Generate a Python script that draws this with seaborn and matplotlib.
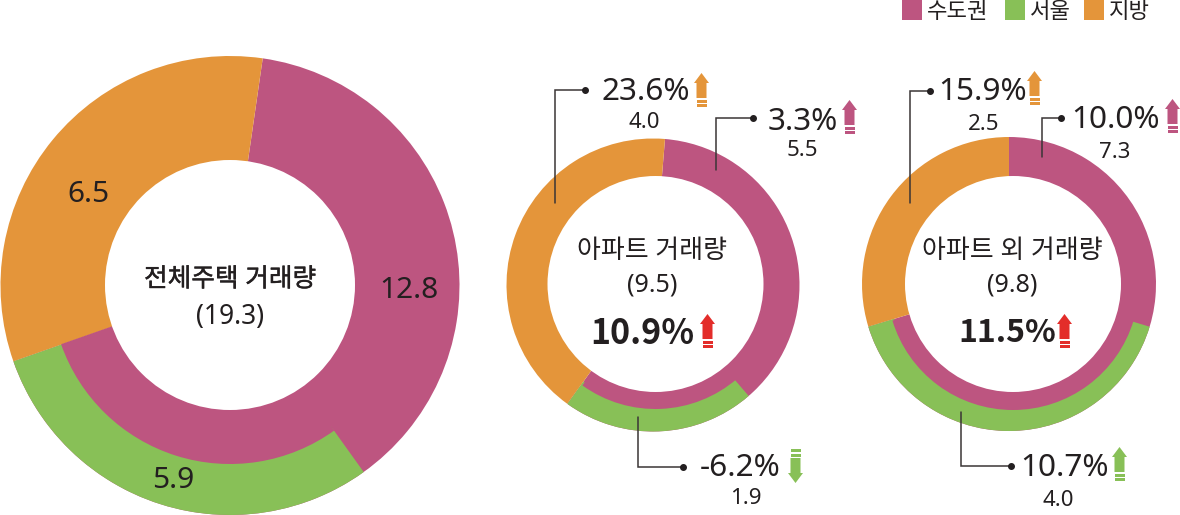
"""Housing transaction donuts, drawn in pixel coordinates of the 1180x515 canvas."""
import matplotlib
matplotlib.use("Agg")
import matplotlib.patheffects as pe
import matplotlib.pyplot as plt
import seaborn as sns
from matplotlib.patches import Circle, Polygon, Rectangle

W, H = 1180, 515

regions = ["수도권", "서울", "지방"]
colors = sns.color_palette(["#BD5580", "#88C057", "#E4953A"])
PINK, GREEN, ORANGE = colors
RED = "#E32D2A"
INK = "#231F20"

# arc sizes read off the rings: 수도권 without 서울, 서울, 지방
total_arcs = [7.3, 5.7, 6.3]
apt_arcs = [3.55, 2.02, 3.93]
non_apt_arcs = [2.91, 3.98, 2.91]

total_labels = ["12.8", "5.9", "6.5"]
apt_changes = ["3.3%", "-6.2%", "23.6%"]
apt_volumes = ["5.5", "1.9", "4.0"]
non_apt_changes = ["10.0%", "10.7%", "15.9%"]
non_apt_volumes = ["7.3", "4.0", "2.5"]

sns.set_theme(style="white")
plt.rcParams["font.family"] = ["Noto Sans", "Noto Sans CJK KR"]
plt.rcParams["text.color"] = INK

fig = plt.figure(figsize=(W / 100, H / 100), dpi=100)
ax = fig.add_axes([0, 0, 1, 1])


def fy(py):
    return H - py


def label(px, py, s, size, stroke=0, **kw):
    t = ax.text(px, fy(py + 2), s, fontsize=size, ha="center", va="center", zorder=5, **kw)
    if stroke:
        t.set_path_effects([pe.withStroke(linewidth=stroke, foreground=INK)])


def donut(arcs, outer, mid, hole, start):
    """outer/mid/hole are (x, y, r) in pixels, start is degrees clockwise from the top."""
    shared = dict(startangle=90 - start, counterclock=False, frame=True)
    ax.pie([arcs[0] + arcs[1], arcs[2]], radius=outer[2], center=(outer[0], fy(outer[1])),
           colors=[PINK, ORANGE], wedgeprops=dict(linewidth=0), **shared)
    # 서울 sits outside a band of 수도권: paint its arc, then the inner part back
    band = outer[2] - mid[2] + 6
    ax.pie(arcs, radius=outer[2], center=(outer[0], fy(outer[1])),
           colors=["none", GREEN, "none"], wedgeprops=dict(linewidth=0, width=band), **shared)
    ax.pie(arcs, radius=mid[2], center=(mid[0], fy(mid[1])),
           colors=["none", PINK, "none"], wedgeprops=dict(linewidth=0), **shared)
    ax.add_patch(Circle((hole[0], fy(hole[1])), hole[2], color="white", lw=0, zorder=3))


def leader(points):
    xs = [p[0] for p in points]
    ys = [fy(p[1]) for p in points]
    ax.plot(xs, ys, color="#3A3536", lw=1.1, zorder=4, solid_joinstyle="miter")
    ax.plot(xs[-1], ys[-1], "o", color=INK, ms=4, zorder=4)


def arrow(left, top, color, up=True):
    """Block arrow 15 px wide and 34 px tall with two stripes at its tail."""
    def y(d):
        return fy(top + d) if up else fy(top + 34 - d)

    ax.add_patch(Polygon([(left, y(10)), (left + 7.5, y(0)), (left + 15, y(10)),
                          (left + 12.5, y(10)), (left + 12.5, y(25)),
                          (left + 2.5, y(25)), (left + 2.5, y(10))],
                         color=color, lw=0, zorder=4))
    for d in (26.5, 31):
        ax.add_patch(Rectangle((left + 2.5, min(y(d), y(d + 3))), 10, 3,
                               color=color, lw=0, zorder=4))


donut(total_arcs, (230, 285.5, 229.5), (230, 285, 179), (230, 285, 125), 8.2)
donut(apt_arcs, (653, 285, 146.5), (655.5, 284, 125), (655.5, 284, 108), 4.7)
donut(non_apt_arcs, (1009, 284, 147), (1013, 284, 126), (1013, 284, 108), 0)

# first donut
label(408.5, 288, total_labels[0], 21.5)
label(173, 479, total_labels[1], 21.5)
label(88, 193, total_labels[2], 21.5)
label(230, 278, "전체주택 거래량", 18.5, stroke=0.3)
label(230, 315, "(19.3)", 19)

# apartments
label(652, 250, "아파트 거래량", 18.7)
label(652, 283, "(9.5)", 18)
label(642, 331, "10.9%", 24.5, family="Noto Sans CJK KR", weight="bold")
arrow(700, 314, RED)

leader([(715.5, 170), (715.5, 118.3), (753.3, 118.3)])
label(803, 120, apt_changes[0], 22.7)
label(802.5, 148, apt_volumes[0], 16)
arrow(842, 100, PINK)

leader([(638.3, 417), (638.3, 466.5), (682.7, 466.5)])
label(740, 466, apt_changes[1], 22.7)
label(746, 497, apt_volumes[1], 16)
arrow(788, 449, GREEN, up=False)

leader([(554.7, 203), (554.7, 90.3), (585, 90.3)])
label(645.5, 90, apt_changes[2], 22.7)
label(644.5, 121, apt_volumes[2], 16)
arrow(694, 73, ORANGE)

# everything but apartments
label(1012, 250, "아파트 외 거래량", 18.7)
label(1012, 283, "(9.8)", 18)
label(1007, 331, "11.5%", 23, family="Noto Sans CJK KR", weight="bold")
arrow(1057, 314, RED)

leader([(1042.3, 157), (1042.3, 118), (1061.3, 118)])
label(1115.5, 118, non_apt_changes[0], 22.7)
label(1115, 150, non_apt_volumes[0], 16)
arrow(1165, 99, PINK)

leader([(960.7, 411.7), (960.7, 466), (1011, 466)])
label(1064.5, 466, non_apt_changes[1], 22.7)
label(1058, 498, non_apt_volumes[1], 16)
arrow(1112, 447, GREEN)

leader([(910, 203), (910, 90.7), (930, 90.7)])
label(983, 90, non_apt_changes[2], 22.7)
label(983.5, 122, non_apt_volumes[2], 16)
arrow(1027, 71, ORANGE)

# legend, spaced by hand because its gaps are uneven
for name, color, left in zip(regions, colors, (902, 1005, 1083.5)):
    ax.add_patch(Rectangle((left, fy(20)), 20, 20, color=color, lw=0))
    ax.text(left + 25, fy(12.5), name, fontsize=16, ha="left", va="center")

ax.set_xlim(0, W)
ax.set_ylim(0, H)
ax.set_aspect("equal")
ax.axis("off")

fig.savefig("out.png", dpi=100)
